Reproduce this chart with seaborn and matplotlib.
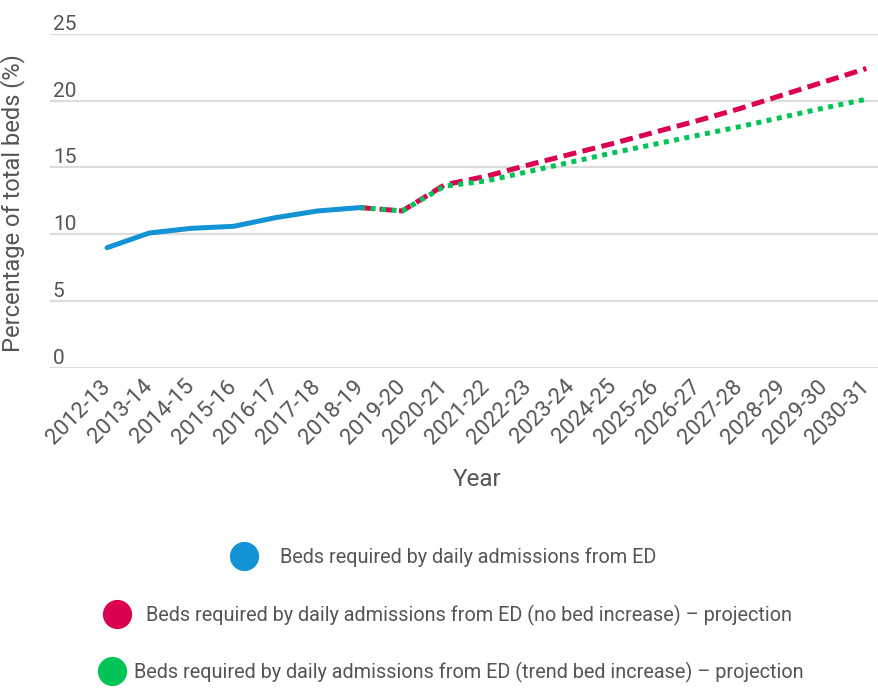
import numpy as np
import pandas as pd
import seaborn as sns
from matplotlib import pyplot as plt
from matplotlib.lines import Line2D

# data
years = ["2012-13", "2013-14", "2014-15", "2015-16", "2016-17", "2017-18", "2018-19",
         "2019-20", "2020-21", "2021-22", "2022-23", "2023-24", "2024-25", "2025-26",
         "2026-27", "2027-28", "2028-29", "2029-30", "2030-31"]

actual = [9.0, 10.1, 10.45, 10.6, 11.25, 11.75, 12.0]
no_increase = [12.0, 11.75, 13.7, 14.35, 15.2, 16.0, 16.8, 17.65, 18.5, 19.4, 20.4, 21.4, 22.4]
trend_increase = [12.0, 11.75, 13.6, 14.0, 14.7, 15.4, 16.1, 16.75, 17.4, 18.05, 18.75, 19.45, 20.1]

labels = ["Beds required by daily admissions from ED",
          "Beds required by daily admissions from ED (no bed increase) \u2013 projection",
          "Beds required by daily admissions from ED (trend bed increase) \u2013 projection"]
colors = ["#1193d5", "#dc0050", "#00c455"]

# long format table for seaborn
idx = np.arange(len(years))
df = pd.concat([
    pd.DataFrame({"x": idx[:len(actual)], "value": actual, "series": labels[0]}),
    pd.DataFrame({"x": idx[6:], "value": no_increase, "series": labels[1]}),
    pd.DataFrame({"x": idx[6:], "value": trend_increase, "series": labels[2]}),
])

sns.set_theme(style="white")
plt.rcParams["font.family"] = ["Roboto", "DejaVu Sans"]
text_col = "#555555"

fig = plt.figure(figsize=(8.79, 6.88), dpi=100)
ax = fig.add_axes([0.057, 0.465, 0.943, 0.486])

order = [labels[1], labels[2], labels[0]]
sns.lineplot(data=df, x="x", y="value", hue="series", style="series",
             hue_order=order, style_order=order,
             palette=dict(zip(labels, colors)),
             dashes={labels[0]: "", labels[1]: (2.6, 1.3), labels[2]: (1, 1.1)},
             linewidth=3.6, legend=False, ax=ax)

ax.set_xlim(-1.35, 18.3)
ax.set_ylim(0, 25)
ax.set_yticks([0, 5, 10, 15, 20, 25])
ax.grid(axis="y", color="#dcdcdc", linewidth=1.6)
ax.grid(axis="x", visible=False)
ax.set_axisbelow(True)
for s in ax.spines.values():
    s.set_visible(False)

ax.set_xticks(idx)
ax.set_xticklabels(years, rotation=45, ha="right", va="center", rotation_mode="anchor",
                   fontsize=16, color=text_col)
ax.tick_params(axis="x", length=0, pad=11)
ax.tick_params(axis="y", length=0, pad=-2, labelsize=15, labelcolor=text_col)
for t in ax.get_yticklabels():
    t.set_horizontalalignment("left")
    t.set_verticalalignment("bottom")

ax.set_ylabel("Percentage of total beds (%)", fontsize=17, color=text_col)
ax.yaxis.set_label_coords(-0.03, 0.495)
ax.set_xlabel("Year", fontsize=17.5, color=text_col)
ax.xaxis.set_label_coords(0.515, -0.30)

# one centred legend row per series
rows_y = [0.190, 0.106, 0.023]
rows_x = [0.501, 0.506, 0.510]
text_pads = [0.8, 0.45, 0.1]
for lab, col, xx, yy, tp in zip(labels, colors, rows_x, rows_y, text_pads):
    h = Line2D([], [], marker="o", linestyle="", markersize=20, color=col)
    fig.legend([h], [lab], loc="center", bbox_to_anchor=(xx, yy), frameon=False,
               fontsize=14.3, labelcolor=text_col, handletextpad=tp, borderpad=0)

fig.savefig("out.png", dpi=100)
